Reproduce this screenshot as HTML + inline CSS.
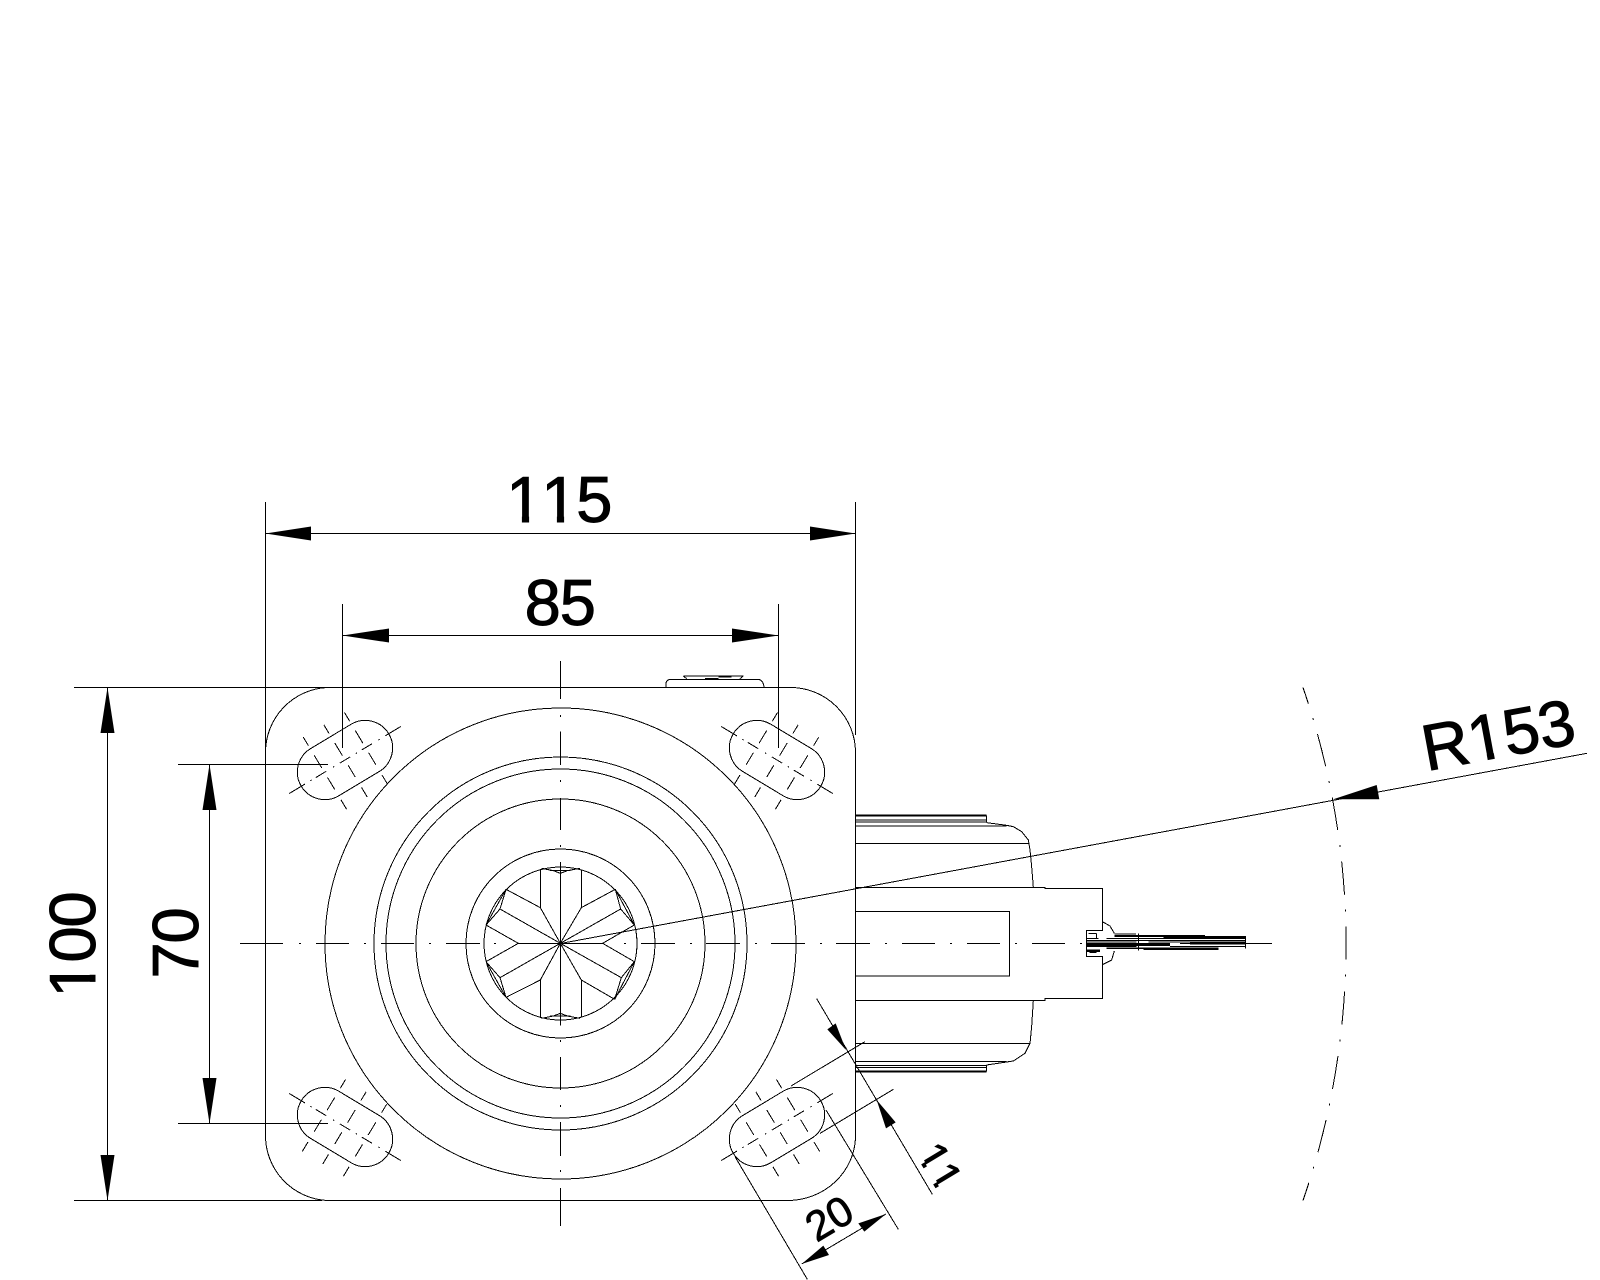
<!DOCTYPE html>
<html>
<head>
<meta charset="utf-8">
<style>
html,body{margin:0;padding:0;background:#fff}
svg{display:block}
text{font-family:"Liberation Sans",Arial,sans-serif;fill:#000;stroke:#000;stroke-width:1px;font-kerning:none}
.big{font-size:65px;letter-spacing:-1.1px}
.small{font-size:42px;stroke-width:.8px}
.m{fill:#fff;stroke:none}
</style>
</head>
<body>
<svg xmlns="http://www.w3.org/2000/svg" width="1600" height="1280" viewBox="0 0 1600 1280" shape-rendering="crispEdges">
<rect width="1600" height="1280" fill="#fff"/>
<defs>
<g id="slot">
<rect x="-51" y="-27.5" width="102" height="55" rx="27.5" ry="27.5"/>
<path d="M-65 0H-46.7M-40.5 0H-39M-34 0H-22M-14 0H-12.5M-6 0H6M12.5 0H14M19.5 0H31.5M39 0H40.5M47 0H65"/>
<path d="M-24 -41V-31M-24 -20V-5M-24 6V20M-24 32V43M0 -41V-31M0 -20V-5M0 6V20M0 32V43M24 -41V-31M24 -20V-5M24 6V20M24 32V43"/>
</g>
</defs>

<g fill="none" stroke="#000" stroke-width="1">
<!-- plate -->
<path d="M265.5 755V752A65 65 0 0 1 327 687.5"/>
<path d="M855.5 755V752A65 65 0 0 0 790 687.5"/>
<path d="M265.5 1135A65 65 0 0 0 327 1200.5"/>
<path d="M855.5 1135A68 65 0 0 1 787 1200.5"/>
<path d="M74 687.5H795"/>
<path d="M74 1200.5H322M327 1200.5H790"/>
<path d="M855.5 755V1135"/>
<path d="M265.5 755V1135"/>

<!-- circles -->
<circle cx="560.5" cy="943.5" r="235.5"/>
<circle cx="560.5" cy="943.5" r="186.5"/>
<circle cx="560.5" cy="943.5" r="174.5"/>
<circle cx="560.5" cy="943.5" r="144.5"/>
<circle cx="560.5" cy="943.5" r="94.5"/>
<circle cx="560.5" cy="943.5" r="76.5"/>

<!-- slots -->
<use href="#slot" transform="translate(345 760) rotate(-31)"/>
<use href="#slot" transform="translate(777 760) rotate(31)"/>
<use href="#slot" transform="translate(345 1127) rotate(31)"/>
<use href="#slot" transform="translate(777 1127) rotate(-31)"/>

<!-- centre lines -->
<path d="M240 943.5H283M299 943.5H301M316 943.5H349M364 943.5H366M381 943.5H414M429 943.5H431M446 943.5H480M494 943.5H496M518 943.5H603M624 943.5H626M641 943.5H675M690 943.5H692M706 943.5H740M755 943.5H757M771 943.5H805M820 943.5H822M836 943.5H870M885 943.5H887M902 943.5H935M950 943.5H952M967 943.5H1000M1015 943.5H1017M1032 943.5H1065M1080 943.5H1082M1180 943.5H1272"/>
<path d="M560.5 661V699M560.5 715V717M560.5 731.5V765M560.5 780V782M560.5 798V830M560.5 845V847M560.5 862V1025.7M560.5 1040V1042M560.5 1057V1090M560.5 1105V1107M560.5 1122V1156M560.5 1170V1172M560.5 1188V1226"/>

<!-- hub details -->
<g transform="translate(450 830) scale(.33333)" stroke-width="3">
<path d="M271 118V233L331 340L394 233V118"/>
<path d="M271 562V450L331 340L394 450V562"/>
<path d="M168 178L271 233M108 285L205 340L108 395M150 237L331 340L150 443M168 502L271 450"/>
<path d="M496 178L394 233M553 285L458 340L553 395M512 237L331 340L514 443M494 508L394 450"/>
<path d="M168 178L150 237L108 285M168 178L108 285M496 178L512 237L553 285M496 178L553 285"/>
<path d="M108 395L150 443L168 502M108 395L168 502M553 395L514 443L494 508M553 395L494 508"/>
<path d="M275 115L310 122L331 130L352 122L390 115M300 122H362"/>
<path d="M275 565L310 558L331 550L352 558L390 565M300 558H362"/>
</g>

<!-- boss on top -->
<g transform="translate(640 660) scale(.33333)" stroke-width="3">
<path d="M78 82V72Q78 58 95 58H355Q370 60 372 82"/>
<path d="M130 48H310M130 48L140 56M310 48L300 56"/>
<path d="M195 56H235M235 50H275" stroke-width="5"/>
</g>

<!-- wheel and fork -->
<g transform="translate(850 800) scale(.33333)" stroke-width="3">
<path d="M17 47H410" stroke-width="6"/>
<path d="M17 60H410M17 66H410M17 78H470M17 130H538M410 47V66"/>
<path d="M410 68L470 76L490 80L515 95L535 120L540 150L545 200L550 262"/>
<path d="M17 263H585V265H757V392H710V470H757V595H585V601H17"/>
<path d="M17 335H478V528H17"/>
<path d="M550 601L545 680L540 730L525 760L490 783L410 795"/>
<path d="M17 730H538M17 785H470M17 797H410M17 803H410"/>
<path d="M17 814H410" stroke-width="6"/>
<path d="M410 797V814"/>
<!-- knob -->
<path d="M757 365L780 378L793 400M793 453L785 480L757 494"/>
<path d="M710 415H745M740 400V415M715 400H740M718 458H740"/>
<!-- handle -->
<path d="M793 402H858M865 400V452M1187 408V445M710 421H1185"/>
<path d="M793 408H1065" stroke-width="6"/>
<path d="M940 411H1185" stroke-width="6"/>
<path d="M770 416H1185" stroke-width="3"/>
<path d="M710 426H860M895 426H1185" stroke-width="3"/>
<path d="M710 433H960" stroke-width="9"/>
<path d="M1020 430H1185" stroke-width="7"/>
<path d="M710 440H860M960 440H1185" stroke-width="3"/>
<path d="M770 445H1105" stroke-width="4"/>
<path d="M710 452H750" stroke-width="8"/>
<path d="M880 449H1105" stroke-width="3"/>
</g>

<!-- R153 arc -->
<path d="M1303 687.5A786.3 786.3 0 0 1 1303 1200.5" stroke-dasharray="33.3 15 2 14.7" stroke-dashoffset="16.3"/>
<!-- R153 leader -->
<path d="M560.5 943.5L1587 753.3"/>

<!-- dimension lines -->
<path d="M265.5 502V755M855.5 502V735"/>
<path d="M342.5 604V748M778.5 604V748"/>
<path d="M265.5 533.5H855.5M342.5 635.5H778.5"/>
<path d="M178 764.5H328M178 1123.5H328"/>
<path d="M107.5 687.5V1200.5M209.5 764.5V1123.5"/>

<!-- BR dims, zoom coords -->
<g transform="translate(720 1000) scale(.33333)" stroke-width="3">
<path d="M213 258L435 125M300 400L520 268"/>
<path d="M290 -4L637 583"/>
<path d="M45 470L262 838M318 330L535 688"/>
<path d="M245 792L498 642"/>
</g>
</g>

<!-- arrowheads -->
<g fill="#000" stroke="none" shape-rendering="geometricPrecision">
<path d="M265.5 533.5L311 526.5V540.5Z"/>
<path d="M855.5 533.5L810 526.5V540.5Z"/>
<path d="M342.5 635.5L389 628.5V642.5Z"/>
<path d="M778.5 635.5L732 628.5V642.5Z"/>
<path d="M107.5 687.5L100.5 733H114.5Z"/>
<path d="M107.5 1200.5L100.5 1155H114.5Z"/>
<path d="M209.5 764.5L202.5 810H216.5Z"/>
<path d="M209.5 1123.5L202.5 1078H216.5Z"/>
<path d="M1333.3 799.3L1376.7 785L1379.3 799.3Z"/>
<g transform="translate(720 1000) scale(.33333)">
<path d="M378 150L322 88L347 70Z"/>
<path d="M470 300L498 385L527 367Z"/>
<path d="M245 792L310 737L327 765Z"/>
<path d="M498 642L415 670L433 695Z"/>
</g>
</g>

<!-- labels -->
<g shape-rendering="geometricPrecision">
<g transform="translate(506.2 522)">
<text class="big">115</text>
<path class="m" d="M2 -6.5H15.7V1.6H2ZM22.9 -6.5H37V1.6H22.9ZM37 -6.5H50.7V1.6H37ZM57.9 -6.5H70V1.6H57.9Z"/>
</g>
<text class="big" x="559.7" y="625" text-anchor="middle">85</text>
<g transform="translate(95 997.6) rotate(-90)">
<text class="big">100</text>
<path class="m" d="M2 -6.5H15.7V1.6H2ZM22.9 -6.5H34.5V1.6H22.9Z"/>
</g>
<text class="big" transform="translate(198 943.5) rotate(-90)" text-anchor="middle">70</text>
<g transform="translate(1426.5 771) rotate(-10.5)">
<text class="big" style="letter-spacing:-.4px">R153</text>
<path class="m" d="M48.5 -6.5H62.2V1.6H48.5ZM69.4 -6.5H81V1.6H69.4Z"/>
</g>
<g transform="translate(927.3 1173.7) rotate(59)">
<text class="small" x="-23.35">11</text>
<path class="m" d="M-22 -4H-11.1V1.2H-22ZM-6.5 -4H.1V1.2H-6.5ZM.1 -4H12.2V1.2H.1ZM16.7 -4H24V1.2H16.7Z"/>
</g>
<text class="small" transform="translate(836.7 1230.7) rotate(-31)" text-anchor="middle">20</text>
</g>
</svg>
</body>
</html>
